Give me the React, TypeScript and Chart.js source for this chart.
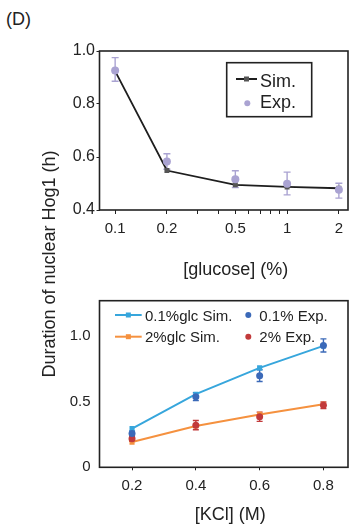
import React, { useEffect, useRef } from 'react';
import { Chart, registerables } from 'chart.js';

Chart.register(...registerables);

const FONT = '"Liberation Sans", Arial, Helvetica, sans-serif';
const INK = '#222222';

// ---------- Top panel: duration vs glucose ----------
const glucose = [0.1, 0.2, 0.5, 1, 2];
const glucoseTickLabels = ['0.1', '0.2', '0.5', '1', '2'];
const glucoseMinorTicks = [0.3, 0.4, 0.6, 0.7, 0.8, 0.9];
const simGlucose = [0.924, 0.549, 0.495, 0.487, 0.482];
const expGlucose = [0.926, 0.583, 0.516, 0.499, 0.476];
const expGlucoseHigh = [0.975, 0.612, 0.548, 0.543, 0.501];
const expGlucoseLow = [0.886, 0.554, 0.485, 0.457, 0.445];
const topYTicks = [0.4, 0.6, 0.8, 1.0];
const topYTickLabels = ['0.4', '0.6', '0.8', '1.0'];

// ---------- Bottom panel: duration vs KCl ----------
const kcl = [0.2, 0.4, 0.6, 0.8];
const kclTickLabels = ['0.2', '0.4', '0.6', '0.8'];
const sim01 = [0.295, 0.557, 0.757, 0.925];
const exp01 = [0.257, 0.538, 0.698, 0.928];
const exp01Err = [0.02, 0.03, 0.045, 0.05];
const sim2 = [0.192, 0.315, 0.403, 0.48];
const exp2 = [0.218, 0.321, 0.385, 0.472];
const exp2Err = [0.02, 0.035, 0.035, 0.025];
const bottomYTicks = [0, 0.5, 1.0];
const bottomYTickLabels = ['0', '0.5', '1.0'];

const COL = {
  sim: '#1e1e1e',
  simMarker: '#555555',
  exp: '#aaa3d2',
  blueSim: '#37a6dc',
  blueExp: '#3b69b8',
  orangeSim: '#f5913f',
  redExp: '#c23a3b',
};

const pts = (xs: number[], ys: number[]) => xs.map((x, i) => ({ x, y: ys[i] }));

const boxPlugin = {
  id: 'panelBox',
  afterDatasetsDraw(chart: any) {
    const { ctx, chartArea } = chart;
    const { left, top, right, bottom } = chartArea;
    ctx.save();
    ctx.strokeStyle = INK;
    ctx.lineWidth = 1.6;
    ctx.strokeRect(left, top, right - left, bottom - top);
    ctx.restore();
  },
};

const errorBarPlugin = {
  id: 'errorBars',
  beforeDatasetsDraw(chart: any) {
    const { ctx } = chart;
    const xs = chart.scales.x;
    const ys = chart.scales.y;
    chart.data.datasets.forEach((ds: any) => {
      if (!ds.errLow || !ds.errHigh) return;
      ctx.save();
      ctx.strokeStyle = ds.errColor || ds.backgroundColor;
      ctx.lineWidth = 1.4;
      const cap = ds.capHalf || 3;
      ds.data.forEach((p: any, j: number) => {
        const px = xs.getPixelForValue(p.x);
        const y1 = ys.getPixelForValue(ds.errLow[j]);
        const y2 = ys.getPixelForValue(ds.errHigh[j]);
        ctx.beginPath();
        ctx.moveTo(px, y1);
        ctx.lineTo(px, y2);
        ctx.moveTo(px - cap, y1);
        ctx.lineTo(px + cap, y1);
        ctx.moveTo(px - cap, y2);
        ctx.lineTo(px + cap, y2);
        ctx.stroke();
      });
      ctx.restore();
    });
  },
};

type LegendItem = {
  kind: 'line' | 'dot';
  color: string;
  marker?: string;
  label: string;
  x1: number; // relative to chart area left
  x2: number;
  y: number; // relative to chart area top
  tx: number;
  ty: number; // text baseline
};

function makeLegendPlugin(items: LegendItem[], fontSize: number, box?: { x: number; y: number; w: number; h: number }) {
  return {
    id: 'panelLegend',
    afterDraw(chart: any) {
      const { ctx, chartArea } = chart;
      const L = chartArea.left;
      const T = chartArea.top;
      ctx.save();
      if (box) {
        ctx.strokeStyle = INK;
        ctx.lineWidth = 1.6;
        ctx.strokeRect(L + box.x, T + box.y, box.w, box.h);
      }
      ctx.font = `${fontSize}px ${FONT}`;
      ctx.textBaseline = 'alphabetic';
      ctx.textAlign = 'left';
      items.forEach((it) => {
        if (it.kind === 'line') {
          ctx.strokeStyle = it.color;
          ctx.lineWidth = 2;
          ctx.beginPath();
          ctx.moveTo(L + it.x1, T + it.y);
          ctx.lineTo(L + it.x2, T + it.y);
          ctx.stroke();
          ctx.fillStyle = it.marker || it.color;
          const cx = L + (it.x1 + it.x2) / 2;
          ctx.fillRect(cx - 2.5, T + it.y - 2.5, 5, 5);
        } else {
          ctx.fillStyle = it.color;
          ctx.beginPath();
          ctx.arc(L + it.x1, T + it.y, 3, 0, Math.PI * 2);
          ctx.fill();
        }
        ctx.fillStyle = INK;
        ctx.fillText(it.label, L + it.tx, T + it.ty);
      });
      ctx.restore();
    },
  };
}

const topLegend = makeLegendPlugin(
  [
    { kind: 'line', color: COL.sim, marker: COL.simMarker, label: 'Sim.', x1: 136.5, x2: 157.5, y: 28, tx: 160.5, ty: 35.7 },
    { kind: 'dot', color: COL.exp, label: 'Exp.', x1: 147.8, x2: 147.8, y: 52.3, tx: 160.5, ty: 56.7 },
  ],
  18,
  { x: 127.2, y: 11.7, w: 85, h: 54 }
);

const bottomLegend = makeLegendPlugin(
  [
    { kind: 'line', color: COL.blueSim, label: '0.1%glc Sim.', x1: 15.5, x2: 42.2, y: 14.3, tx: 45.5, ty: 20 },
    { kind: 'line', color: COL.orangeSim, label: '2%glc Sim.', x1: 15.5, x2: 42.2, y: 36, tx: 45.5, ty: 41 },
    { kind: 'dot', color: COL.blueExp, label: '0.1% Exp.', x1: 148.8, x2: 148.8, y: 14.3, tx: 159.8, ty: 20 },
    { kind: 'dot', color: COL.redExp, label: '2% Exp.', x1: 148.8, x2: 148.8, y: 36, tx: 159.8, ty: 41 },
  ],
  15
);

const tickFont = { family: FONT, size: 15 };
const topYTickFont = { family: FONT, size: 16 };

function useChart(ref: React.RefObject<HTMLCanvasElement>, makeConfig: () => any) {
  useEffect(() => {
    if (!ref.current) return;
    const chart = new Chart(ref.current, makeConfig());
    return () => chart.destroy();
  }, []);
}

export default function App() {
  const topRef = useRef<HTMLCanvasElement>(null);
  const botRef = useRef<HTMLCanvasElement>(null);

  useChart(topRef, () => ({
    type: 'line',
    data: {
      datasets: [
        {
          label: 'Exp.',
          data: pts(glucose, expGlucose),
          showLine: false,
          backgroundColor: COL.exp,
          borderColor: COL.exp,
          pointRadius: 4,
          pointBorderWidth: 0,
          errLow: expGlucoseLow,
          errHigh: expGlucoseHigh,
          capHalf: 3.5,
          order: 0,
        },
        {
          label: 'Sim.',
          data: pts(glucose, simGlucose),
          borderColor: COL.sim,
          backgroundColor: COL.simMarker,
          borderWidth: 1.8,
          pointStyle: 'rect',
          pointRadius: 3.5,
          pointBorderWidth: 0,
          tension: 0,
          order: 1,
        },
      ],
    },
    options: {
      animation: false,
      responsive: false,
      devicePixelRatio: 1,
      layout: { padding: { top: 51, right: 1.5, left: 0, bottom: 0 } },
      plugins: { legend: { display: false }, tooltip: { enabled: false } },
      scales: {
        x: {
          type: 'logarithmic',
          min: 0.0811,
          max: 2.26,
          afterBuildTicks: (s: any) => {
            s.ticks = [...glucose, ...glucoseMinorTicks].sort((a, b) => a - b).map((v) => ({ value: v }));
          },
          afterFit: (s: any) => {
            s.height = 40;
          },
          grid: { drawOnChartArea: false, drawTicks: true, tickLength: 4, color: INK, lineWidth: 1 },
          border: { display: false },
          ticks: {
            autoSkip: false,
            maxRotation: 0,
            padding: 6,
            color: INK,
            font: tickFont,
            callback: (v: number) => {
              const i = glucose.indexOf(v);
              return i >= 0 ? glucoseTickLabels[i] : '';
            },
          },
        },
        y: {
          type: 'linear',
          min: 0.4,
          max: 1.0,
          afterBuildTicks: (s: any) => {
            s.ticks = topYTicks.map((v) => ({ value: v }));
          },
          afterFit: (s: any) => {
            s.width = 99.5;
          },
          grid: { drawOnChartArea: false, drawTicks: true, tickLength: 3, color: INK, lineWidth: 1 },
          border: { display: false },
          ticks: {
            padding: 1.5,
            color: INK,
            font: topYTickFont,
            callback: (v: number) => topYTickLabels[topYTicks.indexOf(v)] ?? '',
          },
        },
      },
    },
    plugins: [errorBarPlugin, boxPlugin, topLegend],
  }));

  useChart(botRef, () => ({
    type: 'line',
    data: {
      datasets: [
        {
          label: '0.1% Exp.',
          data: pts(kcl, exp01),
          showLine: false,
          backgroundColor: COL.blueExp,
          borderColor: COL.blueExp,
          pointRadius: 3.5,
          pointBorderWidth: 0,
          errLow: exp01.map((v, i) => v - exp01Err[i]),
          errHigh: exp01.map((v, i) => v + exp01Err[i]),
          capHalf: 3,
          order: 0,
        },
        {
          label: '2% Exp.',
          data: pts(kcl, exp2),
          showLine: false,
          backgroundColor: COL.redExp,
          borderColor: COL.redExp,
          pointRadius: 3.5,
          pointBorderWidth: 0,
          errLow: exp2.map((v, i) => v - exp2Err[i]),
          errHigh: exp2.map((v, i) => v + exp2Err[i]),
          capHalf: 3,
          order: 1,
        },
        {
          label: '0.1%glc Sim.',
          data: pts(kcl, sim01),
          borderColor: COL.blueSim,
          backgroundColor: COL.blueSim,
          borderWidth: 2,
          pointStyle: 'rect',
          pointRadius: 3.6,
          pointBorderWidth: 0,
          order: 2,
        },
        {
          label: '2%glc Sim.',
          data: pts(kcl, sim2),
          borderColor: COL.orangeSim,
          backgroundColor: COL.orangeSim,
          borderWidth: 2,
          pointStyle: 'rect',
          pointRadius: 3.6,
          pointBorderWidth: 0,
          order: 3,
        },
      ],
    },
    options: {
      animation: false,
      responsive: false,
      devicePixelRatio: 1,
      layout: { padding: { top: 20.7, right: 1, left: 0, bottom: 0 } },
      plugins: { legend: { display: false }, tooltip: { enabled: false } },
      scales: {
        x: {
          type: 'linear',
          min: 0.098,
          max: 0.877,
          afterBuildTicks: (s: any) => {
            s.ticks = kcl.map((v) => ({ value: v }));
          },
          afterFit: (s: any) => {
            s.height = 58.7;
          },
          grid: { drawOnChartArea: false, drawTicks: true, tickLength: 3, color: INK, lineWidth: 1 },
          border: { display: false },
          ticks: {
            autoSkip: false,
            maxRotation: 0,
            padding: 7,
            color: INK,
            font: tickFont,
            callback: (v: number) => kclTickLabels[kcl.indexOf(v)] ?? '',
          },
        },
        y: {
          type: 'linear',
          min: 0,
          max: 1.269,
          afterBuildTicks: (s: any) => {
            s.ticks = bottomYTicks.map((v) => ({ value: v }));
          },
          afterFit: (s: any) => {
            s.width = 99.5;
          },
          grid: { drawOnChartArea: false, drawTicks: false },
          border: { display: false },
          ticks: {
            padding: 9,
            color: INK,
            font: tickFont,
            callback: (v: number) => bottomYTickLabels[bottomYTicks.indexOf(v)] ?? '',
          },
        },
      },
    },
    plugins: [errorBarPlugin, boxPlugin, bottomLegend],
  }));

  const textBase: React.CSSProperties = {
    position: 'absolute',
    fontFamily: FONT,
    color: INK,
    whiteSpace: 'nowrap',
    lineHeight: '24px',
    height: 24,
  };

  return (
    <div style={{ position: 'absolute', left: 0, top: 0, width: 352, height: 526, background: '#fff', overflow: 'hidden' }}>
      <div style={{ ...textBase, left: 6, top: 6.5, fontSize: 18 }}>(D)</div>
      <canvas ref={topRef} width={352} height={250} style={{ position: 'absolute', left: 0, top: 0, width: 352, height: 250 }} />
      <canvas ref={botRef} width={352} height={246} style={{ position: 'absolute', left: 0, top: 280, width: 352, height: 246 }} />
      <div style={{ ...textBase, left: 235.8 - 100, width: 200, top: 257, fontSize: 18, textAlign: 'center' }}>[glucose] (%)</div>
      <div style={{ ...textBase, left: 230.3 - 100, width: 200, top: 502, fontSize: 18, textAlign: 'center' }}>[KCl] (M)</div>
      <div
        style={{
          ...textBase,
          left: 49 - 150,
          top: 263.5 - 12,
          width: 300,
          fontSize: 18,
          textAlign: 'center',
          transform: 'rotate(-90deg)',
        }}
      >
        Duration of nuclear Hog1 (h)
      </div>
    </div>
  );
}
